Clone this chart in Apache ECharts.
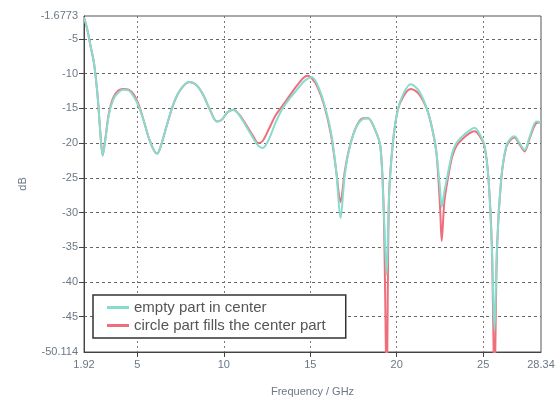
<!DOCTYPE html>
<html>
<head>
<meta charset="utf-8">
<script src="https://cdn.jsdelivr.net/npm/echarts@6/dist/echarts.min.js"></script>
<style>
  html, body { margin: 0; padding: 0; background: #fff; }
  #chart { width: 558px; height: 402px; }
</style>
</head>
<body>
<div id="chart"></div>
<script>
// frequency samples (GHz)
const freq = [1.92, 2.1, 2.3, 2.5, 2.7, 2.85, 3.0, 3.15, 3.35, 3.6, 3.9, 4.2, 4.5, 4.8, 5.1, 5.4, 5.7, 6.0, 6.15, 6.35,
  6.7, 7.1, 7.5, 8.0, 8.4, 8.8, 9.2, 9.6, 9.9, 10.2, 10.55, 10.9, 11.3, 11.7, 12.0, 12.25, 12.6, 13.0, 13.4, 13.8,
  14.2, 14.6, 14.85, 15.1, 15.4, 15.8, 16.2, 16.5, 16.75, 17.0, 17.3, 17.7, 18.05, 18.35, 18.7, 19.05, 19.25, 19.42,
  19.55, 19.76, 20.05, 20.4, 20.8, 21.2, 21.5, 21.8, 22.1, 22.3, 22.5, 22.6, 22.75, 22.95, 23.2, 23.45, 23.8, 24.2,
  24.5, 24.8, 25.07, 25.3, 25.5, 25.65, 25.8, 26.04, 26.33, 26.6, 26.81, 27.1, 27.39, 27.7, 28.07, 28.34];

// empty part in center (dB)
const emptyCenter = [-1.9, -3.5, -6.0, -8.5, -13.0, -18.0, -21.8, -19.5, -16.0, -13.8, -12.7, -12.3, -12.4, -13.3, -14.8, -17.0, -19.5, -21.2, -21.5, -20.5,
  -17.5, -14.3, -12.3, -11.2, -11.6, -13.0, -15.2, -16.9, -16.6, -15.6, -15.2, -16.0, -17.6, -19.3, -20.4, -20.7, -19.5, -17.0, -15.0, -13.6,
  -12.4, -11.2, -10.7, -10.5, -11.5, -14.3, -18.5, -24.0, -30.8, -24.5, -20.4, -17.5, -16.5, -16.4, -17.8, -20.4, -30.0, -39.0,
  -28.0, -20.4, -15.3, -12.8, -11.5, -12.2, -13.5, -15.5, -18.5, -21.5, -26.5, -29.2, -27.0, -24.5, -21.5, -20.0, -19.0, -18.2,
  -17.8, -18.7, -20.4, -25.0, -35.0, -47.0, -35.0, -25.2, -20.4, -19.3, -19.0, -20.0, -21.0, -19.0, -16.9, -17.0];

// circle part fills the center part (dB)
const circleFill = [-1.9, -3.5, -6.0, -8.5, -13.0, -18.0, -21.8, -19.5, -15.8, -13.5, -12.4, -12.2, -12.3, -13.0, -14.6, -17.0, -19.5, -21.2, -21.5, -20.5,
  -17.5, -14.3, -12.3, -11.2, -11.6, -13.0, -15.2, -16.9, -16.6, -15.6, -15.2, -15.9, -17.4, -19.0, -20.0, -19.7, -18.0, -16.0, -14.6, -13.2,
  -11.8, -10.6, -10.3, -10.7, -11.8, -14.5, -18.8, -24.0, -28.5, -24.0, -20.3, -17.4, -16.4, -16.4, -17.8, -20.4, -30.0, -55.0,
  -28.0, -20.4, -15.3, -13.2, -12.2, -12.7, -13.8, -15.5, -18.5, -21.5, -29.0, -34.1, -28.5, -25.2, -22.0, -20.4, -19.4, -18.6,
  -18.3, -19.0, -20.4, -25.0, -35.0, -55.0, -35.0, -25.2, -20.6, -19.5, -19.2, -20.2, -21.2, -19.2, -17.1, -17.0];

const xLabels = [1.92, 5, 10, 15, 20, 25, 28.34];
const xTicks = [5, 10, 15, 20, 25];
const yLabels = [-50.114, -45, -40, -35, -30, -25, -20, -15, -10, -5, -1.6773];
const yTicks = [-45, -40, -35, -30, -25, -20, -15, -10, -5];

const chart = echarts.init(document.getElementById('chart'));

const labelStyle = {
  color: '#6b7886',
  fontSize: 11,
  fontFamily: 'Liberation Sans'
};

const option = {
  animation: false,
  grid: {
    left: 84,
    right: 17,
    top: 16,
    bottom: 44,
    show: true,
    borderColor: '#555',
    borderWidth: 1
  },
  legend: {
    orient: 'vertical',
    left: 93,
    top: 295,
    padding: [5, 20, 5, 14],
    itemGap: 3,
    itemWidth: 22,
    itemHeight: 3,
    icon: 'rect',
    backgroundColor: '#fff',
    borderColor: '#333',
    borderWidth: 1.5,
    textStyle: { color: '#555', fontSize: 15, fontFamily: 'Liberation Sans' },
    data: ['empty part in center', 'circle part fills the center part']
  },
  xAxis: {
    type: 'value',
    min: 1.92,
    max: 28.34,
    name: 'Frequency / GHz',
    nameLocation: 'middle',
    nameGap: 34,
    nameTextStyle: labelStyle,
    axisLine: { lineStyle: { color: '#444' } },
    axisTick: { customValues: xTicks, lineStyle: { color: '#444' } },
    axisLabel: Object.assign({ customValues: xLabels, margin: 7 }, labelStyle),
    splitLine: { show: true, lineStyle: { color: '#777', type: [2, 3] } }
  },
  yAxis: {
    type: 'value',
    min: -50.114,
    max: -1.6773,
    name: 'dB',
    nameLocation: 'middle',
    nameGap: 56,
    nameTextStyle: labelStyle,
    axisLine: { show: true, lineStyle: { color: '#444' } },
    axisTick: { show: true, customValues: yTicks, lineStyle: { color: '#444' } },
    axisLabel: Object.assign({ customValues: yLabels, margin: 6 }, labelStyle),
    splitLine: { show: true, lineStyle: { color: '#666', type: [3, 3] } }
  },
  series: [
    {
      name: 'empty part in center',
      type: 'line',
      data: freq.map((f, i) => [f, emptyCenter[i]]),
      showSymbol: false,
      smooth: 0.3,
      z: 3,
      lineStyle: { color: '#86dccd', width: 2 },
      itemStyle: { color: '#86dccd' }
    },
    {
      name: 'circle part fills the center part',
      type: 'line',
      data: freq.map((f, i) => [f, circleFill[i]]),
      showSymbol: false,
      smooth: 0.3,
      z: 2,
      lineStyle: { color: '#ee6f7c', width: 2 },
      itemStyle: { color: '#ee6f7c' }
    }
  ]
};

chart.setOption(option);
</script>
</body>
</html>
